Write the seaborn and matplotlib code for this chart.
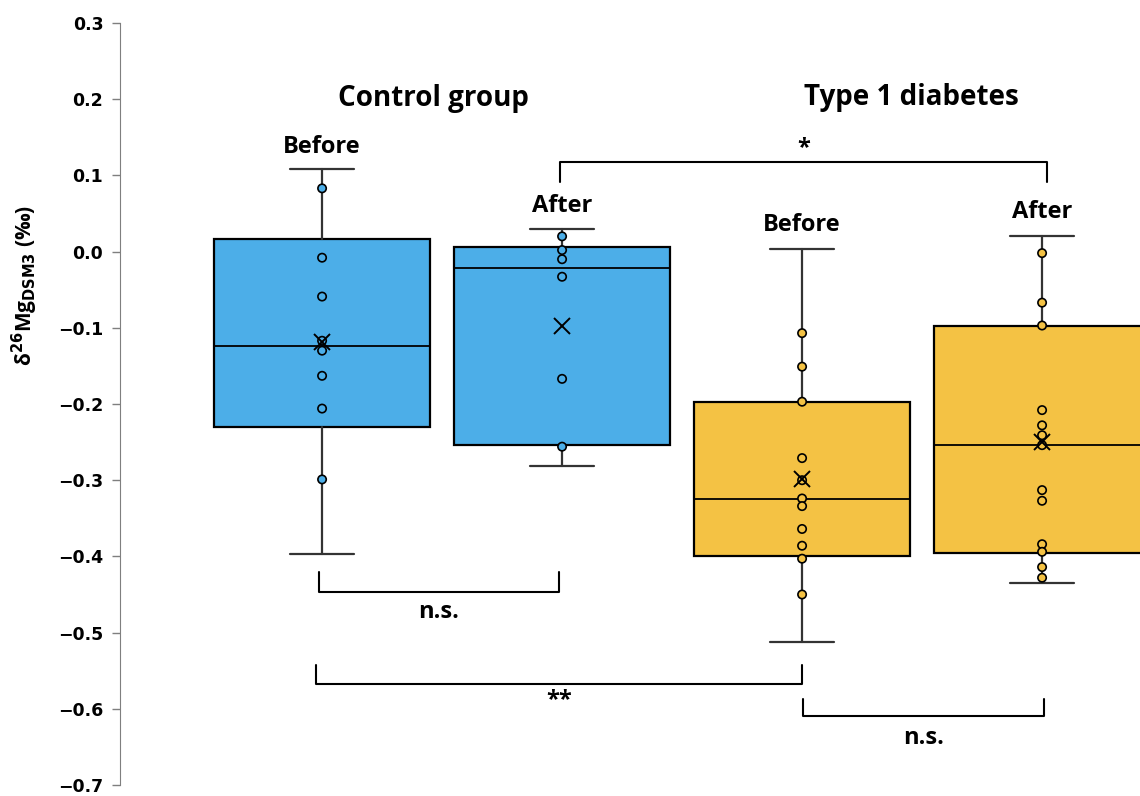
import numpy as np
import pandas as pd
import matplotlib
matplotlib.use("Agg")
import matplotlib.pyplot as plt
import seaborn as sns

# categories, in drawing order
conditions = ["Control before", "Control after", "T1D before", "T1D after"]
groups = ["Control", "Control", "T1D", "T1D"]
sub_labels = ["Before", "After", "Before", "After"]

ctrl_before = [0.083, -0.008, -0.059, -0.117, -0.130, -0.163, -0.206, -0.299]
ctrl_after = [0.020, 0.002, -0.010, -0.033, -0.167, -0.256]
t1d_before = [-0.107, -0.151, -0.197, -0.271, -0.300, -0.324, -0.334, -0.364,
              -0.386, -0.403, -0.450]
t1d_after = [-0.002, -0.067, -0.097, -0.208, -0.228, -0.241, -0.254, -0.313,
             -0.327, -0.384, -0.394, -0.414, -0.428]

# box statistics as drawn in the figure
q1 = [-0.230, -0.254, -0.400, -0.395]
median = [-0.124, -0.022, -0.325, -0.254]
q3 = [0.016, 0.006, -0.197, -0.097]
whisker_low = [-0.397, -0.281, -0.512, -0.435]
whisker_high = [0.109, 0.030, 0.003, 0.021]
means = [-0.118, -0.098, -0.299, -0.250]

yticks = [-0.7, -0.6, -0.5, -0.4, -0.3, -0.2, -0.1, 0.0, 0.1, 0.2, 0.3]

palette = {"Control": "#4CAEE8", "T1D": "#F4C244"}

values = [ctrl_before, ctrl_after, t1d_before, t1d_after]
df = pd.DataFrame({
    "condition": np.repeat(conditions, [len(v) for v in values]),
    "group": np.repeat(groups, [len(v) for v in values]),
    "delta": np.concatenate(values),
})

sns.set_style("white")
plt.rcParams["font.family"] = ["Open Sans", "DejaVu Sans"]
plt.rcParams["text.color"] = "black"
plt.rcParams["axes.labelcolor"] = "black"
plt.rcParams["ytick.color"] = "black"

fig = plt.figure(figsize=(11.4, 7.96), dpi=100)
ax = fig.add_axes([120 / 1140, 11 / 796, 1020 / 1140, 762 / 796])

stats = []
for i in range(len(conditions)):
    stats.append({"q1": q1[i], "med": median[i], "q3": q3[i],
                  "whislo": whisker_low[i], "whishi": whisker_high[i],
                  "mean": means[i], "fliers": []})

bp = ax.bxp(stats, positions=range(len(conditions)), widths=0.9,
            capwidths=0.27, patch_artist=True, showmeans=True,
            boxprops=dict(edgecolor="black", linewidth=1.6),
            medianprops=dict(color="black", linewidth=1.3),
            whiskerprops=dict(color="#333333", linewidth=1.6),
            capprops=dict(color="#333333", linewidth=1.6),
            meanprops=dict(marker="x", markersize=11, markeredgecolor="black",
                           markeredgewidth=1.4, zorder=5),
            zorder=1)
for box, g in zip(bp["boxes"], groups):
    box.set_facecolor(palette[g])

sns.stripplot(data=df, x="condition", y="delta", hue="group", order=conditions,
              palette=palette, jitter=False, size=6, linewidth=1.2,
              edgecolor="black", legend=False, zorder=4, ax=ax)

ax.set_xlim(-0.842, 3.408)
ax.set_ylim(-0.7, 0.3)
ax.set_yticks(yticks)
ax.set_yticklabels([f"{t:.1f}".replace("-", "\u2212") for t in yticks],
                   fontfamily="DejaVu Sans", fontweight="bold", fontsize=12.5)
ax.set_xticks([])
ax.set_xlabel("")
for side in ["top", "right", "bottom"]:
    ax.spines[side].set_visible(False)
ax.spines["left"].set_color("#7f7f7f")
ax.tick_params(axis="y", left=True, direction="out", length=6,
               color="#7f7f7f", width=1, pad=6)

ax.set_ylabel(r"δ$^{\mathbf{26}}$Mg$_{\mathbf{DSM3}}$ (‰)", fontsize=15, fontweight="bold")
ax.yaxis.set_label_coords(-0.078, 0.655)

# group and condition labels
ax.text(0.4625, 0.201, "Control group", ha="center", va="center", fontsize=20, fontweight="bold")
ax.text(2.454, 0.202, "Type 1 diabetes", ha="center", va="center", fontsize=20, fontweight="bold")
sub_y = [0.137, 0.060, 0.035, 0.052]
for i, lab in enumerate(sub_labels):
    ax.text(i, sub_y[i], lab, ha="center", va="center", fontsize=17, fontweight="bold")


def bracket(x1, x2, y_tip, y_bar, label, y_label):
    ax.plot([x1, x1, x2, x2], [y_tip, y_bar, y_bar, y_tip], color="black",
            linewidth=1.5, solid_joinstyle="round")
    ax.text((x1 + x2) / 2, y_label, label, ha="center", va="center",
            fontsize=17, fontweight="bold")


bracket(0.99, 3.02, 0.091, 0.117, "*", 0.136)
bracket(-0.014, 0.986, -0.420, -0.447, "n.s.", -0.473)
bracket(-0.025, 2.0, -0.543, -0.567, "**", -0.588)
bracket(2.003, 3.008, -0.587, -0.610, "n.s.", -0.638)

fig.savefig("out.png", dpi=100)
